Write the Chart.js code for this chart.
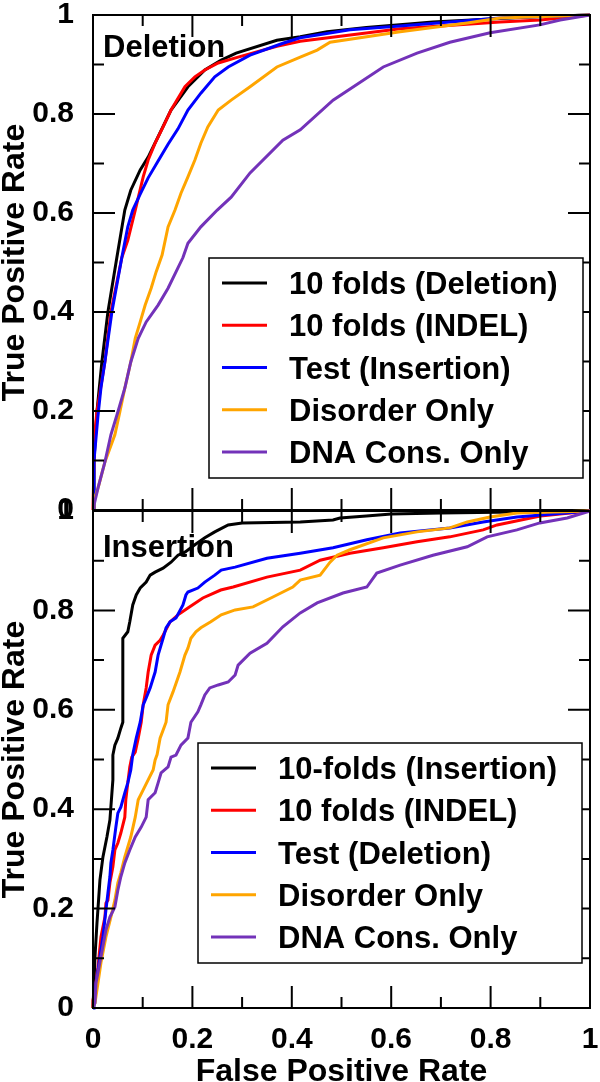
<!DOCTYPE html>
<html>
<head>
<meta charset="utf-8">
<script src="https://cdn.jsdelivr.net/npm/chart.js@4.4.1/dist/chart.umd.min.js"></script>
<style>
  html, body { margin: 0; padding: 0; background: #fff; }
  #wrap { position: relative; width: 600px; height: 1082px; overflow: hidden; }
  canvas { position: absolute; left: 0; }
  #top { top: 0; }
  #bottom { top: 500px; }
</style>
</head>
<body>
<div id="wrap">
  <canvas id="top" width="600" height="530"></canvas>
  <canvas id="bottom" width="600" height="582"></canvas>
</div>
<script>
const FONT = '"Liberation Sans", Arial, Helvetica, sans-serif';

const seriesColors = ['#000000', '#ff0000', '#0000ff', '#ffa500', '#7332b9'];
const tickMajor = [0, 0.2, 0.4, 0.6, 0.8, 1];
const tickMinor = [0.1, 0.3, 0.5, 0.7, 0.9];

// ---- Deletion panel: [FPR, TPR] ----
const delLabels = ['10 folds (Deletion)', '10 folds (INDEL)', 'Test (Insertion)', 'Disorder Only', 'DNA Cons. Only'];

const delTenFold = [[0,0],[0.002,0.1],[0.008,0.2],[0.018,0.3],[0.03,0.4],[0.048,0.51],[0.064,0.606],[0.076,0.646],
  [0.095,0.687],[0.111,0.713],[0.131,0.754],[0.157,0.808],[0.191,0.855],[0.225,0.889],[0.258,0.909],[0.288,0.923],
  [0.37,0.949],[0.417,0.956],[0.471,0.966],[0.55,0.975],[0.684,0.986],[0.8,0.992],[0.9,0.997],[1,1]];

const delIndel = [[0,0],[0.003,0.15],[0.008,0.2],[0.024,0.3],[0.036,0.4],[0.058,0.51],[0.07,0.545],[0.085,0.606],
  [0.101,0.673],[0.111,0.707],[0.125,0.741],[0.141,0.774],[0.157,0.808],[0.185,0.855],[0.205,0.875],[0.225,0.889],
  [0.252,0.903],[0.292,0.915],[0.37,0.937],[0.417,0.947],[0.618,0.972],[0.819,0.986],[0.9,0.99],[1,1]];

const delTest = [[0,0],[0.002,0.1],[0.01,0.19],[0.016,0.247],[0.024,0.3],[0.038,0.4],[0.058,0.51],[0.07,0.572],
  [0.08,0.606],[0.095,0.638],[0.111,0.671],[0.131,0.705],[0.151,0.739],[0.171,0.77],[0.191,0.808],[0.217,0.842],
  [0.245,0.875],[0.272,0.895],[0.316,0.919],[0.382,0.943],[0.417,0.954],[0.517,0.97],[0.618,0.978],[0.718,0.986],
  [0.819,0.994],[1,1]];

const delDisorder = [[0,0],[0.002,0.02],[0.01,0.044],[0.024,0.097],[0.044,0.152],[0.054,0.198],[0.064,0.246],
  [0.076,0.299],[0.085,0.347],[0.095,0.38],[0.105,0.414],[0.117,0.448],[0.127,0.481],[0.139,0.515],[0.151,0.572],
  [0.165,0.606],[0.177,0.64],[0.191,0.673],[0.205,0.707],[0.217,0.741],[0.231,0.774],[0.252,0.808],[0.278,0.828],
  [0.316,0.855],[0.37,0.895],[0.417,0.915],[0.451,0.929],[0.477,0.945],[0.618,0.966],[0.753,0.984],[0.819,0.994],[1,1]];

const delDnaCons = [[0,0],[0.002,0.01],[0.01,0.044],[0.024,0.097],[0.036,0.152],[0.05,0.198],[0.064,0.246],
  [0.076,0.299],[0.091,0.347],[0.107,0.38],[0.131,0.414],[0.151,0.448],[0.167,0.481],[0.181,0.51],[0.191,0.539],
  [0.217,0.572],[0.25,0.606],[0.278,0.632],[0.316,0.681],[0.382,0.747],[0.417,0.768],[0.483,0.828],[0.584,0.895],
  [0.652,0.923],[0.718,0.945],[0.799,0.964],[0.899,0.98],[0.94,0.99],[1,1]];

// ---- Insertion panel: [FPR, TPR] ----
const insLabels = ['10-folds (Insertion)', '10 folds (INDEL)', 'Test (Deletion)', 'Disorder Only', 'DNA Cons. Only'];

const insTenFold = [[0,0],[0.004,0.103],[0.008,0.171],[0.014,0.258],[0.02,0.304],[0.028,0.344],[0.034,0.378],
  [0.04,0.459],[0.04,0.509],[0.044,0.529],[0.05,0.543],[0.056,0.563],[0.06,0.575],[0.06,0.744],[0.07,0.757],
  [0.074,0.777],[0.08,0.811],[0.087,0.831],[0.095,0.845],[0.107,0.857],[0.115,0.871],[0.125,0.877],[0.141,0.885],
  [0.157,0.897],[0.171,0.911],[0.185,0.917],[0.205,0.932],[0.225,0.946],[0.245,0.958],[0.272,0.972],[0.3,0.976],
  [0.417,0.978],[0.483,0.982],[0.497,0.986],[0.55,0.99],[0.6,0.994],[0.7,0.996],[1,1]];

const insIndel = [[0,0],[0,0.016],[0.004,0.036],[0.01,0.082],[0.016,0.143],[0.024,0.183],[0.026,0.211],[0.03,0.217],
  [0.034,0.252],[0.04,0.284],[0.044,0.318],[0.05,0.332],[0.056,0.352],[0.064,0.384],[0.066,0.419],[0.07,0.453],
  [0.074,0.485],[0.078,0.505],[0.085,0.515],[0.091,0.543],[0.097,0.575],[0.101,0.61],[0.107,0.644],[0.111,0.676],
  [0.117,0.71],[0.125,0.73],[0.135,0.74],[0.141,0.75],[0.155,0.777],[0.171,0.791],[0.191,0.805],[0.221,0.825],
  [0.257,0.841],[0.282,0.847],[0.35,0.867],[0.417,0.881],[0.457,0.901],[0.517,0.915],[0.584,0.926],[0.652,0.938],
  [0.718,0.948],[0.785,0.962],[0.813,0.972],[0.9,0.99],[1,1]];

const insTest = [[0,0],[0.002,0.01],[0.006,0.05],[0.014,0.103],[0.02,0.143],[0.026,0.197],[0.03,0.231],[0.034,0.264],
  [0.036,0.292],[0.04,0.318],[0.046,0.364],[0.05,0.392],[0.056,0.404],[0.064,0.433],[0.07,0.453],[0.076,0.479],
  [0.08,0.51],[0.087,0.543],[0.095,0.575],[0.101,0.61],[0.107,0.624],[0.115,0.644],[0.125,0.676],[0.131,0.71],
  [0.141,0.744],[0.147,0.765],[0.155,0.777],[0.167,0.785],[0.181,0.811],[0.187,0.831],[0.191,0.837],[0.211,0.845],
  [0.225,0.857],[0.245,0.871],[0.258,0.881],[0.286,0.887],[0.35,0.905],[0.417,0.915],[0.483,0.926],[0.551,0.942],
  [0.618,0.956],[0.718,0.966],[0.785,0.978],[0.853,0.988],[1,1]];

const insDisorder = [[0,0],[0.004,0.01],[0.01,0.05],[0.016,0.091],[0.026,0.143],[0.036,0.183],[0.044,0.217],
  [0.05,0.252],[0.056,0.272],[0.064,0.304],[0.07,0.324],[0.076,0.344],[0.085,0.384],[0.091,0.419],[0.101,0.439],
  [0.111,0.459],[0.121,0.479],[0.125,0.499],[0.129,0.51],[0.135,0.543],[0.147,0.575],[0.151,0.61],[0.161,0.636],
  [0.175,0.676],[0.185,0.71],[0.191,0.724],[0.197,0.744],[0.207,0.757],[0.217,0.765],[0.237,0.777],[0.258,0.791],
  [0.286,0.801],[0.322,0.807],[0.362,0.827],[0.402,0.847],[0.417,0.861],[0.457,0.871],[0.477,0.897],[0.491,0.911],
  [0.517,0.922],[0.584,0.946],[0.652,0.958],[0.718,0.966],[0.753,0.978],[0.799,0.988],[0.853,0.996],[1,1]];

const insDnaCons = [[0,0],[0.004,0.01],[0.006,0.05],[0.016,0.103],[0.026,0.157],[0.034,0.183],[0.044,0.203],
  [0.05,0.237],[0.056,0.264],[0.064,0.292],[0.074,0.318],[0.085,0.344],[0.097,0.364],[0.107,0.384],[0.111,0.419],
  [0.125,0.433],[0.131,0.453],[0.137,0.473],[0.151,0.485],[0.157,0.505],[0.167,0.509],[0.177,0.529],[0.191,0.543],
  [0.197,0.575],[0.211,0.596],[0.217,0.61],[0.225,0.63],[0.235,0.644],[0.252,0.65],[0.272,0.656],[0.286,0.67],
  [0.292,0.69],[0.316,0.714],[0.35,0.734],[0.382,0.767],[0.417,0.795],[0.451,0.815],[0.503,0.835],[0.551,0.847],
  [0.571,0.875],[0.618,0.891],[0.684,0.911],[0.753,0.928],[0.793,0.948],[0.853,0.962],[0.899,0.976],[0.954,0.986],[1,1]];

// frame, inward ticks, panel name and boxed legend
const panelDecor = {
  id: 'panelDecor',
  beforeDatasetsDraw(chart, args, o) {
    const { ctx, chartArea: a } = chart;
    ctx.save();
    ctx.font = `bold 31px ${FONT}`;
    ctx.fillStyle = '#000';
    ctx.textBaseline = 'alphabetic';
    ctx.fillText(o.name, a.left + 10, a.top + o.nameDy);
    ctx.restore();
  },
  afterDraw(chart, args, o) {
    const { ctx, chartArea: a, scales: { x, y } } = chart;
    ctx.save();
    ctx.strokeStyle = '#000';
    ctx.lineWidth = 2;
    ctx.strokeRect(a.left, a.top, a.right - a.left, a.bottom - a.top);

    ctx.beginPath();
    const ticks = (vals, len) => vals.forEach(v => {
      const px = x.getPixelForValue(v), py = y.getPixelForValue(v);
      ctx.moveTo(px, a.bottom); ctx.lineTo(px, a.bottom - len);
      ctx.moveTo(px, a.top); ctx.lineTo(px, a.top + len);
      ctx.moveTo(a.left, py); ctx.lineTo(a.left + len, py);
      ctx.moveTo(a.right, py); ctx.lineTo(a.right - len, py);
    });
    ticks(tickMajor, 22);
    ticks(tickMinor, 11);
    ctx.stroke();

    // legend box
    const L = o.legend;
    ctx.fillStyle = '#fff';
    ctx.fillRect(L.left, L.top, L.right - L.left, L.bottom - L.top);
    ctx.lineWidth = 1.5;
    ctx.strokeRect(L.left, L.top, L.right - L.left, L.bottom - L.top);
    ctx.font = `bold 31px ${FONT}`;
    ctx.textBaseline = 'alphabetic';
    chart.data.datasets.forEach((ds, i) => {
      const ry = L.firstRow + i * L.rowGap;
      ctx.strokeStyle = ds.borderColor;
      ctx.lineWidth = 3;
      ctx.beginPath();
      ctx.moveTo(L.left + 13, ry);
      ctx.lineTo(L.left + 58, ry);
      ctx.stroke();
      ctx.fillStyle = '#000';
      ctx.fillText(ds.label, L.left + 80, ry + 11);
    });
    ctx.restore();
  }
};

const tickFont = { family: FONT, size: 30, weight: 'bold' };
const titleFont = { family: FONT, size: 32, weight: 'bold' };
const fmt = v => String(Math.round(v * 10) / 10);

function makePanel(id, labels, series, showX, padding, decor) {
  return new Chart(document.getElementById(id), {
    type: 'scatter',
    data: {
      datasets: series.map((s, i) => ({
        label: labels[i],
        data: s.map(([fx, ty]) => ({ x: fx, y: ty })),
        borderColor: seriesColors[i],
        backgroundColor: seriesColors[i],
        borderWidth: 3,
        pointRadius: 0,
        showLine: true,
        tension: 0,
        clip: false,
        order: 5 - i
      }))
    },
    options: {
      responsive: false,
      animation: false,
      layout: { padding },
      plugins: { legend: { display: false }, tooltip: { enabled: false }, panelDecor: decor },
      scales: {
        x: {
          type: 'linear', min: 0, max: 1, display: showX,
          grid: { display: false }, border: { display: false },
          ticks: { stepSize: 0.2, padding: 6, maxRotation: 0, autoSkip: false, color: '#000', font: tickFont, callback: fmt },
          title: { display: true, text: 'False Positive Rate', color: '#000', font: titleFont, padding: { top: 0, bottom: -9 } },
          afterFit: s => {
            if (!showX) return;
            s.height = 74; s.paddingLeft = 0; s.paddingRight = 0;
          }
        },
        y: {
          type: 'linear', min: 0, max: 1,
          grid: { display: false }, border: { display: false },
          ticks: { stepSize: 0.2, padding: 11, color: '#000', font: tickFont, callback: fmt },
          title: { display: true, text: 'True Positive Rate', color: '#000', font: titleFont, padding: { top: -4, bottom: 0 } },
          afterFit: s => { s.width = 93; s.paddingTop = 0; s.paddingBottom = 0; }
        }
      }
    },
    plugins: [panelDecor]
  });
}

makePanel('top', delLabels, [delTenFold, delIndel, delTest, delDisorder, delDnaCons], false,
  { top: 15, right: 10, bottom: 20, left: 0 },
  { name: 'Deletion', nameDy: 42, legend: { left: 209, right: 583, top: 258, bottom: 478, firstRow: 283, rowGap: 42.25 } });

makePanel('bottom', insLabels, [insTenFold, insIndel, insTest, insDisorder, insDnaCons], true,
  { top: 11, right: 10, bottom: 0, left: 0 },
  { name: 'Insertion', nameDy: 46, legend: { left: 198, right: 582, top: 243, bottom: 463, firstRow: 268, rowGap: 42.25 } });
</script>
</body>
</html>
